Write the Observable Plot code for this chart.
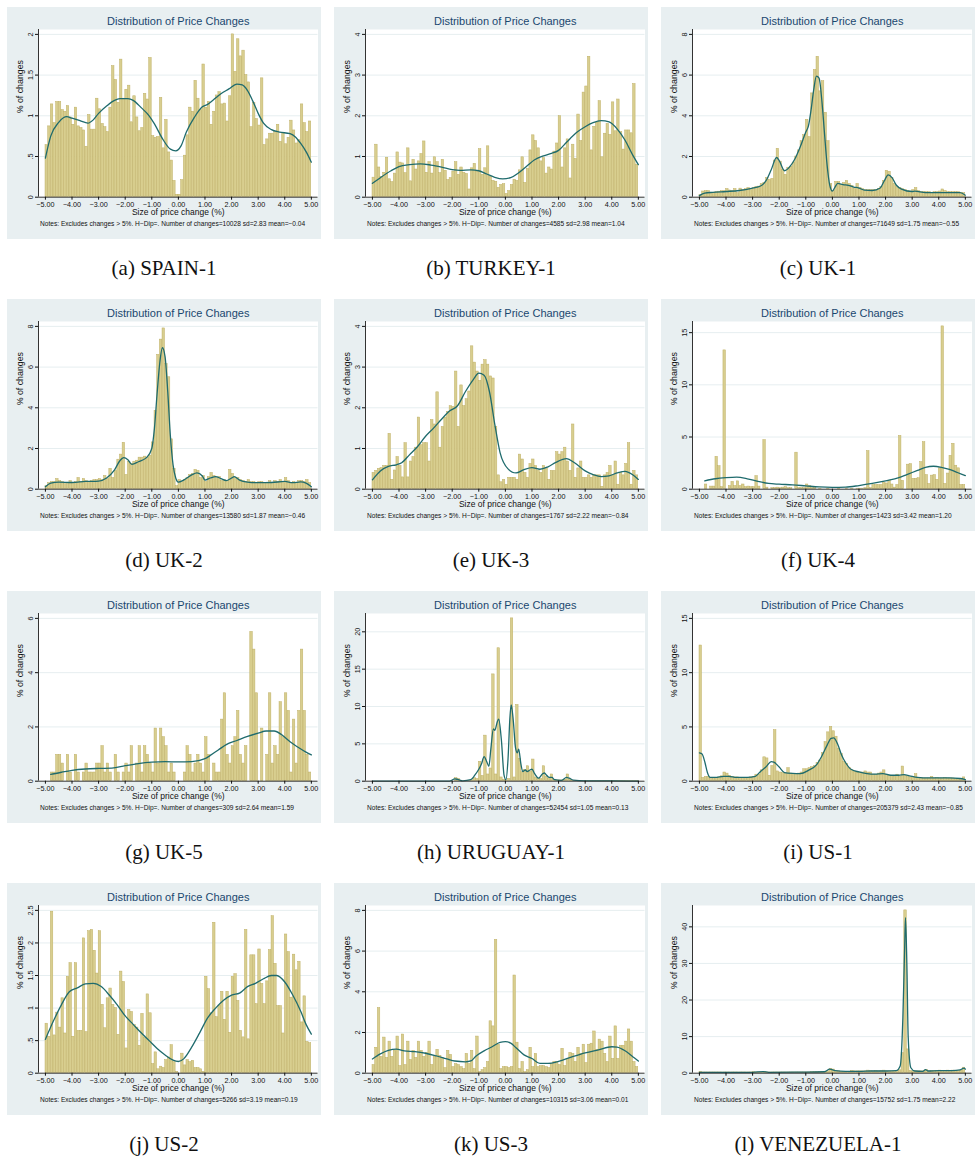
<!DOCTYPE html>
<html>
<head>
<meta charset="utf-8">
<script src="https://cdn.jsdelivr.net/npm/d3@7"></script>
<script src="https://cdn.jsdelivr.net/npm/@observablehq/plot@0.6"></script>
<style>
  html, body { margin: 0; padding: 0; background: #ffffff; }
  #wrap { position: relative; width: 976px; height: 1161px; overflow: hidden; }
  .panel { position: absolute; width: 314px; height: 232px; }
  .panel svg { display: block; }
  .caption { position: absolute; width: 314px; height: 26px; line-height: 26px; text-align: center;
             font-family: "Liberation Serif", "Times New Roman", serif; font-size: 21px; color: #111; }
</style>
</head>
<body>
<div id="wrap"></div>
<script>
// ---------------- DATA ----------------
const binStart = -5;
const binWidth = 0.1;
const xTickValues = [-5, -4, -3, -2, -1, 0, 1, 2, 3, 4, 5];

const panelLetters = ["a","b","c","d","e","f","g","h","i","j","k","l"];
const panelNames = ["SPAIN-1","TURKEY-1","UK-1","UK-2","UK-3","UK-4","UK-5","URUGUAY-1","US-1","US-2","US-3","VENEZUELA-1"];
const nChanges = ["10028","4585","71649","13580","1767","1423","309","52454","205379","5266","10315","15752"];
const sdValues = ["2.83","2.98","1.75","1.87","2.22","3.42","2.64","1.05","2.43","3.19","3.06","1.75"];
const meanValues = ["−0.04","1.04","−0.55","−0.46","−0.84","1.20","1.59","0.13","−0.85","0.19","0.01","2.22"];

const yTicksSpain = [0, 0.5, 1, 1.5, 2];
const yTicksTurkey = [0, 1, 2, 3, 4];
const yTicksUK1 = [0, 2, 4, 6, 8];
const yTicksUK2 = [0, 2, 4, 6, 8];
const yTicksUK3 = [0, 1, 2, 3, 4];
const yTicksUK4 = [0, 5, 10, 15];
const yTicksUK5 = [0, 2, 4, 6];
const yTicksUruguay = [0, 5, 10, 15, 20];
const yTicksUS1 = [0, 5, 10, 15];
const yTicksUS2 = [0, 0.5, 1, 1.5, 2, 2.5];
const yTicksUS3 = [0, 2, 4, 6, 8];
const yTicksVenezuela = [0, 10, 20, 30, 40];

// histogram bar heights (% of changes), bins of 0.1 from -5.0 to 4.9
const spainBars = [
  0.64, 0.87, 1.14, 0.91, 1.17, 1.17, 1.07, 1.05, 1.12, 0.98,
  0.89, 1.10, 0.87, 0.85, 0.82, 0.62, 1.01, 0.83, 0.83, 1.21,
  1.08, 0.90, 0.86, 0.80, 1.10, 1.61, 1.44, 1.16, 1.69, 1.21,
  1.32, 1.37, 0.92, 1.24, 0.98, 0.81, 0.85, 1.27, 1.20, 1.71,
  0.75, 0.73, 0.74, 1.22, 0.60, 0.95, 0.55, 0.45, 0.20, 0.03,
  0.03, 0.21, 0.51, 0.76, 1.10, 1.05, 1.43, 1.21, 1.07, 1.63,
  1.10, 1.17, 0.89, 1.05, 1.25, 1.29, 1.14, 1.15, 0.93, 1.24,
  2.00, 1.54, 1.94, 1.73, 1.80, 1.50, 1.41, 0.86, 1.16, 0.96,
  0.88, 1.46, 0.64, 0.71, 0.78, 0.78, 0.80, 0.89, 0.68, 0.79,
  0.65, 0.73, 0.94, 0.82, 0.66, 0.70, 1.14, 0.91, 0.80, 0.93
];
const turkeyBars = [
  0.48, 1.29, 0.73, 0.50, 0.60, 0.97, 0.44, 0.37, 0.58, 1.10,
  0.85, 0.83, 0.59, 1.20, 0.39, 0.92, 0.68, 0.88, 1.06, 1.37,
  0.60, 0.86, 0.58, 0.98, 0.86, 0.59, 0.92, 0.65, 0.42, 0.47,
  0.63, 0.86, 0.55, 0.73, 0.60, 0.57, 0.19, 0.71, 0.82, 0.63,
  1.18, 0.55, 0.71, 1.25, 0.50, 0.40, 0.38, 0.23, 0.30, 0.32,
  0.08, 0.15, 0.30, 0.43, 0.40, 0.66, 0.98, 0.35, 0.70, 1.15,
  1.52, 1.38, 1.20, 0.88, 0.96, 0.58, 0.73, 0.68, 1.12, 1.32,
  1.99, 0.73, 1.20, 1.42, 0.46, 1.29, 0.94, 2.03, 1.38, 2.57,
  2.72, 3.45, 1.15, 1.73, 1.83, 2.36, 0.98, 1.56, 1.80, 1.53,
  2.33, 1.62, 2.40, 1.60, 1.17, 1.64, 1.64, 1.57, 2.78, 0.80
];
const uk1Bars = [
  0.10, 0.28, 0.30, 0.30, 0.22, 0.22, 0.25, 0.27, 0.30, 0.30,
  0.40, 0.33, 0.30, 0.40, 0.20, 0.42, 0.35, 0.40, 0.45, 0.35,
  0.45, 0.50, 0.52, 0.65, 0.70, 0.95, 0.85, 0.90, 1.80, 2.38,
  1.75, 1.35, 1.10, 1.45, 1.50, 1.70, 2.00, 2.30, 2.75, 3.05,
  3.80, 2.95, 5.10, 6.25, 6.90, 5.20, 5.70, 4.15, 2.75, 0.65,
  0.30, 0.75, 0.75, 0.60, 0.70, 0.80, 0.65, 0.55, 0.40, 0.65,
  0.45, 0.40, 0.35, 0.35, 0.35, 0.35, 0.35, 0.40, 0.50, 0.80,
  1.30, 1.25, 0.95, 0.65, 0.50, 0.45, 0.40, 0.35, 0.30, 0.28,
  0.35, 0.45, 0.30, 0.25, 0.25, 0.25, 0.25, 0.22, 0.25, 0.25,
  0.28, 0.38, 0.30, 0.25, 0.25, 0.25, 0.25, 0.25, 0.22, 0.20
];
const uk2Bars = [
  0.15, 0.30, 0.35, 0.35, 0.50, 0.40, 0.35, 0.25, 0.30, 0.40,
  0.30, 0.35, 0.55, 0.35, 0.50, 0.40, 0.35, 0.40, 0.45, 0.45,
  0.50, 0.45, 0.65, 0.50, 1.00, 0.55, 0.90, 1.45, 1.70, 2.28,
  0.70, 1.35, 1.25, 1.35, 1.40, 1.55, 1.55, 1.60, 1.55, 1.65,
  2.30, 3.85, 6.60, 7.35, 7.90, 6.15, 5.50, 2.45, 1.00, 0.15,
  0.45, 0.35, 0.45, 0.55, 0.70, 0.75, 0.95, 0.90, 0.55, 0.65,
  0.35, 0.60, 0.80, 0.65, 0.55, 0.60, 0.40, 0.45, 0.40, 0.95,
  0.75, 0.55, 0.55, 0.45, 0.40, 0.35, 0.45, 0.35, 0.35, 0.30,
  0.35, 0.35, 0.30, 0.30, 0.40, 0.30, 0.40, 0.35, 0.45, 0.35,
  0.55, 0.40, 0.30, 0.35, 0.30, 0.40, 0.40, 0.35, 0.45, 0.30
];
const uk3Bars = [
  0.40, 0.45, 0.50, 0.52, 0.57, 0.57, 1.36, 0.23, 0.46, 0.79,
  0.57, 0.29, 1.13, 0.29, 0.68, 0.79, 1.02, 1.76, 1.08, 1.13,
  1.13, 0.68, 1.70, 1.59, 2.38, 1.02, 1.53, 1.76, 1.90, 2.04,
  2.02, 2.89, 1.53, 2.55, 2.04, 2.21, 2.40, 3.51, 3.11, 2.89,
  2.66, 3.06, 3.17, 3.06, 2.77, 2.72, 1.53, 0.34, 0.17, 0.23,
  0.11, 0.28, 0.28, 0.28, 0.23, 0.85, 0.73, 0.40, 0.28, 0.62,
  0.73, 0.57, 0.45, 0.40, 0.57, 0.51, 0.23, 0.45, 0.45, 0.91,
  0.85, 0.91, 1.02, 0.68, 0.45, 1.59, 0.28, 0.51, 0.68, 0.28,
  0.28, 0.34, 0.28, 0.34, 0.34, 0.34, 0.06, 0.34, 0.40, 0.57,
  0.34, 0.68, 0.11, 0.40, 0.34, 0.62, 1.13, 0.11, 0.45, 0.34
];
const uk4Bars = [
  0, 0, 0.45, 0, 0.25, 0.25, 3.1, 2.2, 0.2, 13.3,
  0, 0.3, 0.7, 0.3, 0.75, 0.3, 0.45, 0.2, 0.25, 0.2,
  0.2, 1.25, 0.25, 0, 4.7, 0.15, 0, 0.1, 0.1, 0.15,
  0.1, 0.15, 0.2, 0.1, 0.1, 0, 3.5, 0.1, 0.1, 0.1,
  0.45, 0.3, 0.1, 0.1, 0, 0.05, 0, 0, 0.05, 0,
  0, 0, 0.05, 0, 0, 0.05, 0, 0.05, 0, 0.05,
  0.05, 0.05, 0.1, 3.65, 0.1, 0.4, 0.4, 0.4, 0.4, 0.6,
  0.55, 0.8, 0.45, 0.15, 0.4, 5.1, 0.8, 0, 2.35, 2.4,
  1.0, 1.0, 1.05, 2.6, 4.5, 1.35, 0.5, 1.3, 1.35, 0.9,
  2.0, 15.6, 0.5, 1.5, 3.2, 4.35, 2.25, 2.0, 0.4, 0.4
];
const uk5Bars = [
  0, 0, 0.32, 0.32, 0.97, 0.97, 0.65, 0, 0.97, 0.32,
  0, 0.97, 0.32, 0, 0.32, 0.65, 0.32, 0.32, 0.32, 0.65,
  0.65, 1.29, 0.32, 0.65, 0.32, 0, 0.97, 0.32, 0, 0.32,
  0.65, 0.32, 1.29, 0, 0.65, 1.29, 0.32, 1.29, 0.97, 0.65,
  0.32, 1.94, 0.65, 1.94, 1.62, 1.29, 0.32, 0.65, 0.32, 0,
  0, 0, 0.32, 1.29, 0.97, 0.32, 0.65, 0.97, 0.65, 0.32,
  1.62, 0.97, 0, 0.65, 0.32, 0.32, 2.27, 3.24, 0.97, 0.65,
  1.29, 1.62, 2.59, 0.97, 0.65, 1.29, 0, 5.50, 4.85, 3.24,
  0, 1.94, 0, 0.97, 3.24, 0.65, 1.29, 0.97, 2.91, 1.62,
  3.24, 2.59, 0.32, 2.27, 0.65, 2.59, 4.85, 2.59, 0.97, 0.32
];
const uruguayBars = [
  0, 0, 0, 0, 0, 0, 0, 0, 0, 0,
  0, 0, 0, 0, 0, 0, 0, 0, 0, 0,
  0, 0, 0, 0, 0, 0, 0, 0, 0, 0,
  0, 0.4, 0.3, 0, 0, 0, 0.05, 0.1, 0.4, 0.3,
  2.6, 0.7, 6.1, 0.9, 1.7, 14.3, 0.9, 17.8, 0.5, 0.2,
  0.1, 0.3, 21.8, 0.5, 10.2, 3.0, 1.2, 1.5, 2.0, 1.3,
  2.9, 0.5, 0.3, 0.3, 2.0, 0.6, 0.3, 0.9, 0.2, 0.1,
  0.1, 0.1, 0.2, 0.9, 0.2, 0.05, 0.05, 0.05, 0.05, 0.05,
  0.05, 0.05, 0.05, 0.05, 0.05, 0.05, 0.05, 0.05, 0.05, 0.05,
  0.05, 0.05, 0.05, 0.05, 0.05, 0.05, 0.05, 0.05, 0.05, 0.05
];
const us1Bars = [
  12.5, 0.3, 0.4, 0.4, 0.2, 0.2, 0.3, 0.35, 0.45, 0.8,
  0.7, 0.5, 0.4, 0.35, 0.35, 0.3, 0.3, 0.3, 0.3, 0.35,
  0.4, 0.6, 0.6, 1.0, 2.2, 2.1, 0.5, 1.4, 4.7, 0.9,
  0.8, 0.75, 0.7, 1.2, 0.7, 0.65, 0.65, 0.7, 0.8, 1.1,
  1.1, 1.2, 1.3, 1.4, 1.7, 1.9, 2.6, 3.6, 4.5, 5.0,
  4.6, 4.1, 3.0, 2.5, 1.8, 1.6, 1.2, 1.0, 0.9, 0.8,
  0.8, 0.8, 0.9, 0.8, 0.8, 0.6, 0.6, 0.7, 0.8, 1.0,
  0.6, 0.5, 0.5, 0.4, 0.6, 0.4, 1.35, 0.5, 0.4, 0.35,
  0.35, 0.65, 0.3, 0.3, 0.25, 0.25, 0.25, 0.4, 0.25, 0.3,
  0.25, 0.25, 0.3, 0.25, 0.25, 0.25, 0.2, 0.2, 0.2, 0.35
];
const us2Bars = [
  0.76, 0.56, 2.48, 0.58, 0.93, 0.70, 1.15, 0.61, 1.48, 1.69,
  0.56, 1.69, 0.65, 0.65, 2.07, 0.63, 2.18, 2.20, 1.88, 1.53,
  2.18, 1.05, 0.69, 1.15, 1.30, 1.05, 1.00, 0.59, 1.56, 1.40,
  0.38, 0.97, 0.94, 0.74, 0.70, 0.42, 0.91, 0.54, 1.21, 0.92,
  0.14, 0.32, 0.06, 0.10, 0.08, 0.20, 0.24, 0.43, 0.17, 0.02,
  0.00, 0.30, 0.12, 0.20, 0.17, 0.19, 0.08, 0.08, 0.06, 0.02,
  1.48, 1.29, 0.92, 2.31, 0.86, 1.04, 1.25, 0.82, 1.25, 0.62,
  1.48, 1.52, 1.11, 0.65, 0.55, 2.20, 0.52, 1.81, 1.81, 1.06,
  1.90, 1.37, 1.06, 1.41, 1.89, 2.41, 1.68, 1.03, 1.03, 0.61,
  2.13, 1.86, 1.16, 1.82, 1.58, 1.71, 0.78, 1.18, 0.48, 0.46
];
const us3Bars = [
  0.40, 1.25, 3.20, 0.80, 1.75, 0.75, 1.55, 0.80, 1.10, 1.80,
  0.35, 1.90, 0.40, 1.55, 0.65, 1.10, 0.75, 1.55, 1.10, 0.80,
  1.00, 1.55, 0.40, 0.80, 1.15, 0.85, 0.75, 0.25, 1.10, 0.90,
  0.30, 0.45, 0.40, 0.30, 0.20, 0.95, 0.45, 1.10, 0.20, 1.80,
  0.05, 0.15, 0.25, 0.55, 2.55, 2.30, 6.55, 1.40, 0.20, 0.30,
  0.30, 0.25, 0.30, 4.80, 1.50, 0.20, 0.55, 0.05, 0.15, 1.25,
  0.30, 0.95, 0.30, 0.35, 0.35, 0.30, 0.25, 0.45, 0.55, 0.55,
  0.40, 1.20, 0.35, 0.70, 1.00, 0.95, 0.55, 1.25, 0.95, 1.40,
  0.50, 1.40, 1.45, 2.05, 1.15, 1.65, 1.55, 0.95, 0.55, 1.80,
  0.70, 2.30, 0.70, 1.35, 1.35, 1.55, 2.15, 1.55, 0.55, 0.30
];
const venezuelaBars = [
  0.4, 0.2, 0.2, 0.2, 0.2, 0.2, 0.2, 0.2, 0.2, 0.2,
  0.2, 0.2, 0.2, 0.2, 0.2, 0.2, 0.2, 0.2, 0.2, 0.2,
  0.3, 0.2, 0.2, 0.2, 0.4, 0.2, 0.2, 0.2, 0.2, 0.2,
  0.2, 0.2, 0.2, 0.2, 0.2, 0.2, 0.2, 0.2, 0.2, 0.2,
  0.2, 0.2, 0.3, 0.3, 0.3, 0.3, 0.3, 0.3, 0.5, 1.2,
  1.0, 0.6, 0.5, 0.4, 0.4, 0.4, 0.4, 0.6, 0.5, 0.5,
  0.5, 0.5, 0.5, 0.7, 0.6, 0.5, 0.6, 0.5, 0.6, 0.7,
  0.5, 0.5, 0.5, 0.5, 0.6, 0.8, 5.5, 44.5, 6.5, 0.6,
  0.5, 0.5, 0.5, 0.5, 0.5, 0.9, 0.5, 0.6, 0.6, 0.6,
  0.7, 0.6, 0.6, 0.7, 0.6, 0.7, 0.6, 0.6, 0.7, 1.5
];

// kernel density curves, [x, density]
const spainDensity = [[-5,0.48],[-4.8,0.75],[-4.5,0.92],[-4.2,0.99],[-4,0.97],[-3.7,0.94],[-3.4,0.91],[-3.2,0.95],[-3,1.03],[-2.7,1.12],[-2.4,1.19],[-2.2,1.21],[-1.9,1.21],[-1.7,1.19],[-1.4,1.1],[-1.1,1.0],[-0.9,0.9],[-0.6,0.72],[-0.3,0.59],[-0.1,0.57],[0.1,0.63],[0.3,0.8],[0.6,0.98],[0.9,1.11],[1.1,1.14],[1.3,1.19],[1.6,1.27],[1.9,1.33],[2.2,1.39],[2.4,1.38],[2.6,1.31],[2.8,1.18],[3,1.03],[3.2,0.91],[3.5,0.83],[3.8,0.8],[4.2,0.78],[4.4,0.74],[4.6,0.66],[4.8,0.56],[5,0.43]];
const turkeyDensity = [[-5,0.34],[-4.7,0.48],[-4.3,0.65],[-4,0.75],[-3.6,0.8],[-3.2,0.82],[-2.8,0.79],[-2.4,0.74],[-2,0.68],[-1.7,0.66],[-1.3,0.67],[-1,0.65],[-0.7,0.57],[-0.4,0.49],[-0.1,0.45],[0.2,0.48],[0.5,0.6],[0.8,0.76],[1.1,0.92],[1.4,1.01],[1.7,1.07],[2,1.15],[2.3,1.35],[2.7,1.6],[3,1.73],[3.3,1.83],[3.6,1.88],[3.9,1.85],[4.2,1.68],[4.5,1.4],[4.8,1.02],[5,0.8]];
const uk1Density = [[-5,0.08],[-4.8,0.2],[-4.5,0.24],[-4,0.28],[-3.5,0.33],[-3,0.45],[-2.7,0.55],[-2.5,0.8],[-2.3,1.35],[-2.1,1.95],[-2,1.8],[-1.8,1.3],[-1.6,1.5],[-1.4,1.9],[-1.2,2.5],[-1,3.2],[-0.9,3.5],[-0.8,4.3],[-0.7,5.3],[-0.6,5.95],[-0.5,5.85],[-0.4,4.8],[-0.3,3.2],[-0.2,1.6],[-0.1,0.6],[0,0.3],[0.1,0.5],[0.2,0.68],[0.4,0.62],[0.6,0.58],[0.8,0.5],[1,0.45],[1.2,0.35],[1.5,0.33],[1.8,0.45],[1.95,0.8],[2.1,1.1],[2.25,0.95],[2.4,0.6],[2.6,0.4],[3,0.28],[3.1,0.3],[3.5,0.22],[4,0.22],[4.5,0.22],[4.8,0.22],[5,0.1]];
const uk2Density = [[-5,0.12],[-4.8,0.3],[-4.5,0.35],[-4,0.33],[-3.5,0.38],[-3,0.4],[-2.7,0.55],[-2.4,0.95],[-2.2,1.4],[-2.05,1.55],[-1.9,1.45],[-1.75,1.22],[-1.5,1.35],[-1.2,1.55],[-1,2.0],[-0.9,3.0],[-0.8,4.7],[-0.7,6.2],[-0.6,6.95],[-0.5,6.5],[-0.4,4.8],[-0.3,2.6],[-0.2,1.2],[-0.1,0.55],[0,0.35],[0.2,0.45],[0.5,0.7],[0.7,0.8],[0.9,0.65],[1,0.45],[1.2,0.55],[1.4,0.62],[1.6,0.52],[1.8,0.42],[2,0.55],[2.1,0.62],[2.3,0.45],[2.6,0.35],[3,0.32],[3.5,0.33],[4,0.38],[4.3,0.32],[4.6,0.36],[4.8,0.3],[5,0.12]];
const uk3Density = [[-5,0.23],[-4.7,0.45],[-4.4,0.56],[-4.1,0.6],[-3.9,0.65],[-3.6,0.85],[-3.3,1.05],[-3,1.3],[-2.7,1.5],[-2.4,1.72],[-2.1,1.92],[-1.8,2.05],[-1.5,2.4],[-1.2,2.7],[-1,2.85],[-0.8,2.8],[-0.6,2.4],[-0.4,1.6],[-0.2,0.9],[0.1,0.5],[0.4,0.4],[0.7,0.48],[1,0.53],[1.3,0.49],[1.6,0.55],[1.9,0.66],[2.3,0.75],[2.6,0.65],[3,0.45],[3.3,0.36],[3.6,0.31],[3.9,0.33],[4.2,0.4],[4.5,0.44],[4.8,0.35],[5,0.24]];
const uk4Density = [[-4.8,0.8],[-4.4,1.0],[-4,1.1],[-3.6,1.15],[-3.2,1.0],[-2.8,0.75],[-2.4,0.55],[-2,0.48],[-1.5,0.42],[-1,0.32],[-0.5,0.22],[0,0.18],[0.5,0.2],[1,0.35],[1.5,0.55],[2,0.8],[2.5,1.1],[2.8,1.4],[3.2,1.8],[3.5,2.1],[3.8,2.2],[4.1,2.1],[4.4,1.9],[4.7,1.6],[5,1.3]];
const uk5Density = [[-4.8,0.25],[-4.4,0.33],[-4,0.4],[-3.5,0.45],[-3,0.47],[-2.5,0.48],[-2,0.57],[-1.5,0.65],[-1,0.7],[-0.5,0.72],[0,0.71],[0.5,0.72],[1,0.83],[1.2,0.95],[1.5,1.15],[1.8,1.35],[2.2,1.5],[2.6,1.65],[3,1.77],[3.3,1.85],[3.6,1.85],[3.9,1.7],[4.2,1.45],[4.5,1.25],[4.8,1.07],[5,0.97]];
const uruguayDensity = [[-5,0],[-2.1,0.02],[-1.9,0.3],[-1.8,0.25],[-1.6,0.05],[-1.3,0.2],[-1.15,0.8],[-1,1.6],[-0.9,2.3],[-0.8,3.3],[-0.7,2.6],[-0.62,2.0],[-0.55,4.2],[-0.45,7.0],[-0.4,6.8],[-0.3,8.0],[-0.25,8.3],[-0.15,5.5],[-0.05,0.8],[0.02,0.2],[0.1,3.0],[0.17,8.5],[0.22,10.2],[0.3,8.0],[0.38,4.5],[0.45,3.8],[0.5,4.3],[0.58,2.4],[0.65,1.3],[0.75,1.5],[0.82,1.3],[0.92,1.5],[1,1.6],[1.1,1.0],[1.25,0.4],[1.4,1.0],[1.47,1.1],[1.55,0.8],[1.65,0.5],[1.75,0.5],[1.85,0.2],[2.1,0.1],[2.3,0.5],[2.4,0.4],[2.55,0.15],[3,0.05],[4,0.05],[5,0]];
const us1Density = [[-5,2.6],[-4.9,2.5],[-4.8,1.8],[-4.7,0.8],[-4.6,0.35],[-4.4,0.35],[-4.1,0.45],[-3.9,0.45],[-3.6,0.35],[-3.2,0.35],[-2.9,0.45],[-2.7,0.9],[-2.5,1.3],[-2.3,1.8],[-2.2,1.75],[-2,1.3],[-1.8,0.8],[-1.5,0.72],[-1.2,0.7],[-0.9,1.0],[-0.6,1.5],[-0.4,2.3],[-0.2,3.3],[-0.05,3.95],[0.05,4.0],[0.2,3.4],[0.35,2.4],[0.5,1.7],[0.7,1.1],[1,0.85],[1.3,0.7],[1.6,0.65],[1.9,0.7],[2.2,0.55],[2.5,0.55],[2.7,0.6],[2.9,0.5],[3.2,0.35],[3.6,0.3],[4,0.3],[4.4,0.3],[4.8,0.25],[5,0.15]];
const us2Density = [[-5,0.52],[-4.7,0.8],[-4.4,1.05],[-4.1,1.25],[-3.8,1.31],[-3.5,1.37],[-3.2,1.38],[-2.9,1.33],[-2.6,1.2],[-2.3,1.05],[-2,0.88],[-1.7,0.75],[-1.4,0.62],[-1.1,0.5],[-0.8,0.38],[-0.5,0.28],[-0.2,0.2],[0,0.18],[0.2,0.22],[0.5,0.4],[0.8,0.62],[1.1,0.85],[1.4,1.0],[1.7,1.12],[2,1.2],[2.3,1.23],[2.6,1.33],[2.9,1.38],[3.2,1.45],[3.5,1.5],[3.7,1.5],[4,1.4],[4.3,1.2],[4.6,0.95],[4.8,0.75],[5,0.6]];
const us3Density = [[-5,0.7],[-4.7,0.95],[-4.4,1.12],[-4.1,1.18],[-3.8,1.1],[-3.4,1.06],[-3,0.98],[-2.6,0.85],[-2.2,0.7],[-1.9,0.6],[-1.5,0.56],[-1.3,0.6],[-1.1,0.85],[-0.8,1.1],[-0.5,1.3],[-0.2,1.52],[0,1.55],[0.2,1.48],[0.4,1.25],[0.7,0.9],[1,0.72],[1.3,0.48],[1.6,0.48],[2,0.58],[2.5,0.8],[3,1.0],[3.5,1.15],[4,1.3],[4.2,1.28],[4.5,1.1],[4.8,0.8],[5,0.6]];
const venezuelaDensity = [[-5,0.25],[-4,0.2],[-3,0.25],[-2.6,0.45],[-2.4,0.25],[-1,0.3],[-0.3,0.4],[-0.1,1.1],[0.1,0.7],[0.5,0.5],[1,0.5],[1.5,0.6],[2,0.6],[2.4,0.7],[2.55,2.0],[2.65,15.0],[2.72,35.0],[2.75,42.5],[2.8,30.0],[2.85,10.0],[2.95,1.5],[3.1,0.6],[3.4,0.5],[3.5,1.0],[3.6,0.6],[4,0.7],[4.5,0.7],[4.8,0.9],[4.95,1.4],[5,1.1]];

const barsList = [spainBars, turkeyBars, uk1Bars, uk2Bars, uk3Bars, uk4Bars, uk5Bars, uruguayBars, us1Bars, us2Bars, us3Bars, venezuelaBars];
const densityList = [spainDensity, turkeyDensity, uk1Density, uk2Density, uk3Density, uk4Density, uk5Density, uruguayDensity, us1Density, us2Density, us3Density, venezuelaDensity];
const yTicksList = [yTicksSpain, yTicksTurkey, yTicksUK1, yTicksUK2, yTicksUK3, yTicksUK4, yTicksUK5, yTicksUruguay, yTicksUS1, yTicksUS2, yTicksUS3, yTicksVenezuela];

// ---------------- DRAW ----------------
const FONT = "'Liberation Sans', Arial, Helvetica, sans-serif";
const BG = "#e8eff1";
const xDomain = [-5.26, 5.25];
const fmtX = d => d.toFixed(2).replace("-", "\u2212");
const fmtY = d => (d > 0 && d < 1) ? String(d).slice(1) : String(d);

const wrap = document.getElementById("wrap");

panelLetters.forEach((letter, i) => {
  const col = i % 3, row = Math.floor(i / 3);
  const left = 7 + col * 327, top = 7 + row * 292;

  const bins = barsList[i]
    .map((v, k) => ({x1: binStart + k * binWidth, x2: binStart + (k + 1) * binWidth, y: v}))
    .filter(d => d.y > 0);
  const yTicks = yTicksList[i];
  const yTop = Math.max(yTicks[yTicks.length - 1], d3.max(barsList[i])) * 1.03;
  const note = `Notes: Excludes changes > 5%. H\u2212Dip=. Number of changes=${nChanges[i]} sd=${sdValues[i]} mean=${meanValues[i]}`;

  const svg = Plot.plot({
    width: 314,
    height: 232,
    marginLeft: 31,
    marginRight: 3.5,
    marginTop: 22,
    marginBottom: 42.3,
    style: {background: BG, fontFamily: FONT, color: "#111", overflow: "visible"},
    x: {domain: xDomain, label: null},
    y: {domain: [0, yTop], label: null},
    marks: [
      Plot.frame({fill: "white", stroke: null}),
      Plot.gridY(yTicks.filter(t => t > 0), {stroke: "#e6eef0", strokeOpacity: 1, strokeWidth: 1}),
      Plot.rectY(bins, {x1: "x1", x2: "x2", y: "y", fill: "#d8ce8f", stroke: "#bfb066", strokeWidth: 0.5, insetLeft: 0.1, insetRight: 0.1}),
      Plot.line(densityList[i], {x: d => d[0], y: d => d[1], curve: "monotone-x", stroke: "#1f6b6d", strokeWidth: 1.3}),
      Plot.ruleY([0], {stroke: "#333", strokeWidth: 1}),
      Plot.ruleX([xDomain[0]], {stroke: "#333", strokeWidth: 1}),
      Plot.axisX(xTickValues, {tickFormat: fmtX, tickSize: 3, tickPadding: 1.2, fontSize: 7.2, label: null}),
      Plot.axisY(yTicks, {tickFormat: fmtY, tickSize: 3, tickPadding: 3, tickRotate: -90, fontSize: 7.2, label: null}),
      Plot.text(["Distribution of Price Changes"], {text: d => d, frameAnchor: "top", dy: -12.5, fontSize: 11, fill: "#1a476f"}),
      Plot.text(["% of changes"], {text: d => d, frameAnchor: "left", dx: -18, rotate: -90, fontSize: 8.8}),
      Plot.text(["Size of price change (%)"], {text: d => d, frameAnchor: "bottom", dy: 18, fontSize: 8.5}),
      Plot.text([note], {text: d => d, frameAnchor: "bottom-left", textAnchor: "start", dx: 1.5, dy: 29, fontSize: 6.6})
    ]
  });

  const holder = document.createElement("div");
  holder.className = "panel";
  holder.style.left = left + "px";
  holder.style.top = top + "px";
  holder.appendChild(svg);
  wrap.appendChild(holder);

  const cap = document.createElement("div");
  cap.className = "caption";
  cap.style.left = left + "px";
  cap.style.top = (top + 248) + "px";
  cap.textContent = `(${letter}) ${panelNames[i]}`;
  wrap.appendChild(cap);
});
</script>
</body>
</html>
